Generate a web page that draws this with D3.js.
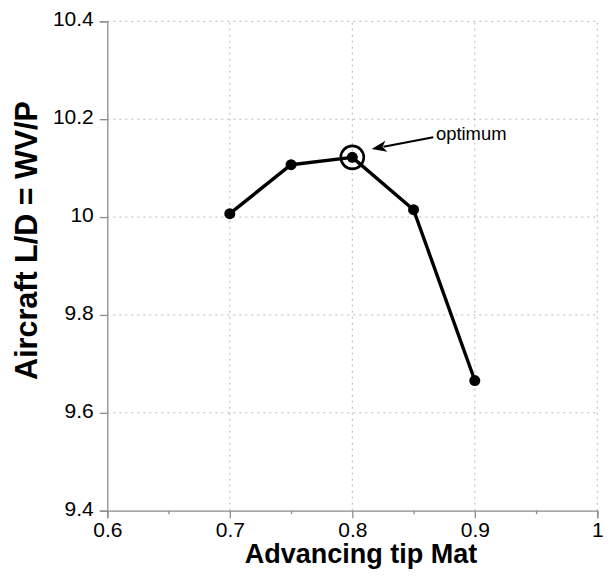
<!DOCTYPE html>
<html>
<head>
<meta charset="utf-8">
<script src="https://cdn.jsdelivr.net/npm/d3@7"></script>
<style>
  html, body { margin: 0; padding: 0; background: #fff; }
  svg { display: block; font-family: "Liberation Sans", Arial, Helvetica, sans-serif; }
  .axis text { font-size: 21px; font-family: "Liberation Sans", Arial, Helvetica, sans-serif; fill: #000; }
</style>
</head>
<body>
<svg id="chart" width="615" height="576"></svg>
<script>
// ---- data ----
const machValues = [0.7, 0.75, 0.8, 0.85, 0.9];
const ldValues = [10.007, 10.107, 10.122, 10.015, 9.666];
const xTicks = [0.6, 0.7, 0.8, 0.9, 1.0];
const xTickLabels = ["0.6", "0.7", "0.8", "0.9", "1"];
const xMinorTicks = [0.65, 0.75, 0.85, 0.95];
const yTicks = [9.4, 9.6, 9.8, 10.0, 10.2, 10.4];
const yTickLabels = ["9.4", "9.6", "9.8", "10", "10.2", "10.4"];
const optimumIndex = 2;
const annotationText = "optimum";
const xTitle = "Advancing tip Mat";
const yTitle = "Aircraft L/D = WV/P";

// ---- layout ----
const svg = d3.select("#chart");
const x = d3.scaleLinear().domain([0.6, 1.0]).range([107.3, 597.3]);
const y = d3.scaleLinear().domain([9.4, 10.4]).range([510.7, 21.3]);

const gridColor = "#b5b5b5";
const axisColor = "#8c8c8c";

// grid
const grid = svg.append("g");
grid.selectAll("line.v").data(xTicks.slice(1)).join("line")
  .attr("x1", d => x(d)).attr("x2", d => x(d))
  .attr("y1", y(9.4)).attr("y2", y(10.4))
  .attr("stroke", gridColor).attr("stroke-width", 1)
  .attr("stroke-dasharray", "2,4");
grid.selectAll("line.h").data(yTicks.slice(1)).join("line")
  .attr("x1", x(0.6)).attr("x2", x(1.0))
  .attr("y1", d => y(d)).attr("y2", d => y(d))
  .attr("stroke", gridColor).attr("stroke-width", 1)
  .attr("stroke-dasharray", "2,4");

// bottom axis
const xAxis = svg.append("g").attr("class", "axis").attr("transform", `translate(0,${y(9.4)})`)
  .call(d3.axisBottom(x).tickValues(xTicks).tickFormat((d, i) => xTickLabels[i]).tickSize(7.5).tickPadding(4));
svg.append("g").attr("transform", `translate(0,${y(9.4)})`)
  .call(d3.axisBottom(x).tickValues(xMinorTicks).tickFormat("").tickSize(3.5))
  .call(g => g.select(".domain").remove());

// left axis
const yAxis = svg.append("g").attr("class", "axis").attr("transform", `translate(${x(0.6)},0)`)
  .call(d3.axisLeft(y).tickValues(yTicks).tickFormat((d, i) => yTickLabels[i]).tickSize(7.5).tickPadding(6));

svg.selectAll(".domain").attr("stroke", axisColor).attr("stroke-width", 1.3);
svg.selectAll(".tick line").attr("stroke", axisColor).attr("stroke-width", 1.3);
xAxis.attr("font-size", 21).attr("font-family", "Liberation Sans, Arial, sans-serif");
yAxis.attr("font-size", 21).attr("font-family", "Liberation Sans, Arial, sans-serif");
yAxis.selectAll("text").attr("dy", "4.5px");

// titles
svg.append("text")
  .attr("x", 361).attr("y", 563)
  .attr("text-anchor", "middle")
  .style("font-size", "27px").style("font-weight", "bold")
  .text(xTitle);
svg.append("text")
  .attr("transform", "translate(37,240.5) rotate(-90)")
  .attr("text-anchor", "middle")
  .style("font-size", "30.5px").style("font-weight", "bold")
  .text(yTitle);

// line + markers
const pts = machValues.map((m, i) => [m, ldValues[i]]);
svg.append("path")
  .datum(pts)
  .attr("d", d3.line().x(d => x(d[0])).y(d => y(d[1])))
  .attr("fill", "none").attr("stroke", "#000").attr("stroke-width", 3.4)
  .attr("stroke-linejoin", "round");
svg.selectAll("circle.pt").data(pts).join("circle")
  .attr("cx", d => x(d[0])).attr("cy", d => y(d[1])).attr("r", 5.5)
  .attr("fill", "#000");

// optimum ring
svg.append("circle")
  .attr("cx", x(pts[optimumIndex][0])).attr("cy", y(pts[optimumIndex][1]))
  .attr("r", 11.5).attr("fill", "none").attr("stroke", "#000").attr("stroke-width", 2.6);

// arrow annotation
const tail = [0.8661, 10.163];
const tip = [0.8158, 10.139];
const tx = x(tip[0]), ty = y(tip[1]);
const sx = x(tail[0]), sy = y(tail[1]);
const ang = Math.atan2(ty - sy, tx - sx);
const headLen = 15, headW = 5.5;
const bx = tx - headLen * Math.cos(ang), by = ty - headLen * Math.sin(ang);
svg.append("line")
  .attr("x1", sx).attr("y1", sy).attr("x2", bx + 3 * Math.cos(ang)).attr("y2", by + 3 * Math.sin(ang))
  .attr("stroke", "#000").attr("stroke-width", 2.2);
svg.append("path")
  .attr("d", `M${tx},${ty} L${bx - headW * Math.sin(ang)},${by + headW * Math.cos(ang)} L${bx + 4 * Math.cos(ang)},${by + 4 * Math.sin(ang)} L${bx + headW * Math.sin(ang)},${by - headW * Math.cos(ang)} Z`)
  .attr("fill", "#000");
svg.append("text")
  .attr("x", x(0.8683)).attr("y", y(10.1565))
  .style("font-size", "18.4px")
  .text(annotationText);
</script>
</body>
</html>
